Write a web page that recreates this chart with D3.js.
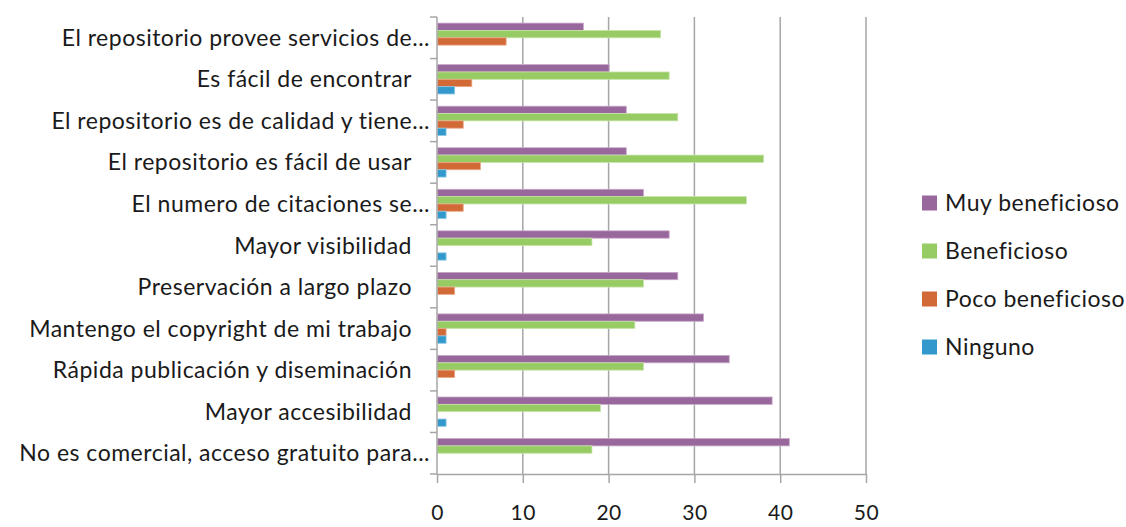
<!DOCTYPE html>
<html>
<head>
<meta charset="utf-8">
<script src="https://cdn.jsdelivr.net/npm/d3@7"></script>
<style>
  body { margin: 0; background: #fff; }
  svg { font-family: Lato, "Open Sans", sans-serif; }
</style>
</head>
<body>
<div class="chart"></div>
<script>
// categories, top to bottom
const categories = [
  "El repositorio provee servicios de...",
  "Es fácil de encontrar",
  "El repositorio es de calidad y tiene...",
  "El repositorio es fácil de usar",
  "El numero de citaciones se...",
  "Mayor visibilidad",
  "Preservación a largo plazo",
  "Mantengo el copyright de mi trabajo",
  "Rápida publicación y diseminación",
  "Mayor accesibilidad",
  "No es comercial, acceso gratuito para..."
];

const seriesNames = ["Muy beneficioso", "Beneficioso", "Poco beneficioso", "Ninguno"];

const muyBeneficioso  = [17, 20, 22, 22, 24, 27, 28, 31, 34, 39, 41];
const beneficioso     = [26, 27, 28, 38, 36, 18, 24, 23, 24, 19, 18];
const pocoBeneficioso = [ 8,  4,  3,  5,  3,  0,  2,  1,  2,  0,  0];
const ninguno         = [ 0,  2,  1,  1,  1,  1,  0,  1,  0,  1,  0];

const xTicks = [0, 10, 20, 30, 40, 50];

const seriesValues = [muyBeneficioso, beneficioso, pocoBeneficioso, ninguno];
const colors  = ["#98679b", "#97cb64", "#d26a38", "#3399cc"];
const strokes = ["#c7a6c9", "#c6e3a8", "#eaa888", "#8cc8e6"];

const margin = {top: 17, right: 260, bottom: 53, left: 437},
    width = 1126 - margin.left - margin.right,
    height = 527 - margin.top - margin.bottom;

const svg = d3.select(".chart")
  .append("svg")
    .attr("width", 1126)
    .attr("height", 527)
  .append("g")
    .attr("transform", `translate(${margin.left},${margin.top})`);

const x = d3.scaleLinear()
    .domain([0, 50])
    .range([0, width]);

const y = d3.scaleBand()
    .domain(categories)
    .range([0, height]);

const bw = y.bandwidth();
const ySub = d3.scaleBand()
    .domain(seriesNames)
    .range([bw * 0.147, bw * 0.853]);

// vertical gridlines
svg.append("g")
  .selectAll("line")
  .data(xTicks.slice(1))
  .join("line")
    .attr("x1", d => x(d))
    .attr("x2", d => x(d))
    .attr("y1", 0)
    .attr("y2", height)
    .attr("stroke", "#a6a6a6")
    .attr("stroke-width", 1.5);

// bars
const rows = categories.map((c, i) => ({cat: c, vals: seriesValues.map(s => s[i])}));

svg.append("g")
  .selectAll("g")
  .data(rows)
  .join("g")
    .attr("transform", d => `translate(0,${y(d.cat)})`)
  .selectAll("rect")
  .data(d => d.vals.map((v, k) => ({key: seriesNames[k], k: k, v: v})).filter(d => d.v > 0))
  .join("rect")
    .attr("x", x(0) + 0.5)
    .attr("y", d => ySub(d.key))
    .attr("width", d => x(d.v) - x(0))
    .attr("height", ySub.bandwidth())
    .attr("fill", d => colors[d.k])
    .attr("stroke", d => strokes[d.k])
    .attr("stroke-width", 0.8);

// y axis line and ticks at category boundaries
const boundaries = categories.map(c => y(c)).concat([height]);
svg.append("line")
    .attr("x1", 0).attr("x2", 0)
    .attr("y1", 0).attr("y2", height)
    .attr("stroke", "#a6a6a6").attr("stroke-width", 1.5);
svg.append("g")
  .selectAll("line")
  .data(boundaries)
  .join("line")
    .attr("x1", -7).attr("x2", 0)
    .attr("y1", d => d).attr("y2", d => d)
    .attr("stroke", "#a6a6a6").attr("stroke-width", 1.5);

// category labels
svg.append("g")
  .selectAll("text")
  .data(categories)
  .join("text")
    .attr("x", d => d.endsWith("...") ? -7 : -25)
    .attr("y", d => y(d) + bw / 2)
    .attr("dy", "0.35em")
    .attr("text-anchor", "end")
    .attr("font-size", 23)
    .attr("letter-spacing", 0.5)
    .attr("fill", "#1a1a1a")
    .text(d => d);

// x axis
const xAxis = svg.append("g")
    .attr("transform", `translate(0,${height})`)
    .call(d3.axisBottom(x).tickValues(xTicks).tickSize(9).tickPadding(22).tickSizeOuter(0));
xAxis.select(".domain").attr("stroke", "#a6a6a6").attr("stroke-width", 1.5);
xAxis.selectAll(".tick line").attr("stroke", "#a6a6a6").attr("stroke-width", 1.5);
xAxis.selectAll(".tick text")
    .attr("font-size", 21)
    .attr("font-family", "Lato, 'Open Sans', sans-serif")
    .attr("letter-spacing", 0.5)
    .attr("fill", "#1a1a1a");

// legend
const legend = svg.append("g")
    .attr("transform", `translate(${922 - margin.left},${203 - margin.top})`);
const li = legend.selectAll("g")
  .data(seriesNames)
  .join("g")
    .attr("transform", (d, i) => `translate(0,${i * 48})`);
li.append("rect")
    .attr("x", 0).attr("y", -7.5)
    .attr("width", 15).attr("height", 15)
    .attr("fill", (d, i) => colors[i]);
li.append("text")
    .attr("x", 23)
    .attr("dy", "0.35em")
    .attr("font-size", 23)
    .attr("letter-spacing", 0.5)
    .attr("fill", "#1a1a1a")
    .text(d => d);
</script>
</body>
</html>
